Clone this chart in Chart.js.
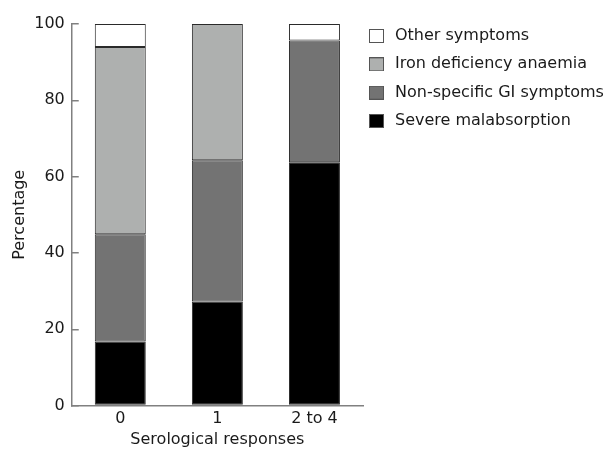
<!DOCTYPE html>
<html>
<head>
<meta charset="utf-8">
<script src="https://cdn.jsdelivr.net/npm/chart.js@4/dist/chart.umd.min.js"></script>
<style>
  body { margin: 0; background: #fff; }
  #wrap { width: 608px; height: 449px; }
</style>
</head>
<body>
<div id="wrap"><canvas id="symptomsChart"></canvas></div>
<script>
// data
const categories = ['0', '1', '2 to 4'];
const seriesNames = ['Severe malabsorption', 'Non-specific GI symptoms', 'Iron deficiency anaemia', 'Other symptoms'];
const severe = [16.8, 27.3, 63.8];
const nonSpecific = [28.1, 37.0, 31.9];
const ironDeficiency = [49.1, 35.7, 0];
const otherSymptoms = [6.0, 0, 4.3];
const fills = ['#000000', '#737373', '#aeb0af', '#ffffff'];

const textColor = '#1a1a1a';
const axisColor = '#808080';
const edgeColor = '#2a2a2a';
const font = { family: 'DejaVu Sans', size: 16 };

// small square used as legend marker
function swatch(fill) {
  let c = document.createElement('canvas');
  c.width = 16;
  c.height = 14;
  let g = c.getContext('2d');
  g.fillStyle = fill;
  g.fillRect(0, 0, 15, 14);
  g.strokeStyle = '#555555';
  g.lineWidth = 1;
  g.strokeRect(0.5, 0.5, 14, 13);
  return c;
}

let values = [severe, nonSpecific, ironDeficiency, otherSymptoms];
let datasets = values.map((v, i) => ({
  label: seriesNames[i],
  data: v,
  backgroundColor: fills[i],
  borderColor: edgeColor,
  borderWidth: 1,
  borderSkipped: false,
  barPercentage: 0.525,
  categoryPercentage: 1
}));

let ctx = document.getElementById('symptomsChart').getContext('2d');
let chart = new Chart(ctx, {
  type: 'bar',
  data: { labels: categories, datasets: datasets },
  options: {
    responsive: true,
    maintainAspectRatio: false,
    animation: false,
    devicePixelRatio: 1,
    layout: { padding: { left: 6, top: 24, right: 0, bottom: 0 } },
    plugins: {
      tooltip: { enabled: false },
      legend: {
        position: 'right',
        align: 'start',
        fullSize: false,
        maxWidth: 245,
        labels: {
          color: textColor,
          font: { family: 'DejaVu Sans', size: 16, lineHeight: 1.52 },
          padding: 4,
          usePointStyle: true,
          pointStyleWidth: 20,
          boxHeight: 14,
          generateLabels: c => c.data.datasets.map((ds, i) => ({
            text: [ds.label],
            fillStyle: ds.backgroundColor,
            strokeStyle: ds.borderColor,
            lineWidth: 1,
            pointStyle: swatch(ds.backgroundColor),
            hidden: false,
            datasetIndex: i,
            fontColor: textColor
          })).reverse()
        }
      }
    },
    scales: {
      x: {
        stacked: true,
        grid: { display: false, drawTicks: false },
        border: { display: true, color: axisColor, width: 1.5 },
        ticks: { color: textColor, font: font, padding: 4 },
        title: {
          display: true,
          text: 'Serological responses',
          color: textColor,
          font: font,
          padding: { top: -3, bottom: 0 }
        }
      },
      y: {
        stacked: true,
        min: 0,
        max: 100,
        grid: {
          drawOnChartArea: false,
          drawTicks: true,
          tickLength: -7,
          color: axisColor,
          lineWidth: 1.5
        },
        border: { display: true, color: axisColor, width: 1.5 },
        ticks: { stepSize: 20, color: textColor, font: font, padding: 14 },
        title: {
          display: true,
          text: 'Percentage',
          color: textColor,
          font: font,
          padding: { top: 4, bottom: -9 }
        }
      }
    }
  }
});
</script>
</body>
</html>
